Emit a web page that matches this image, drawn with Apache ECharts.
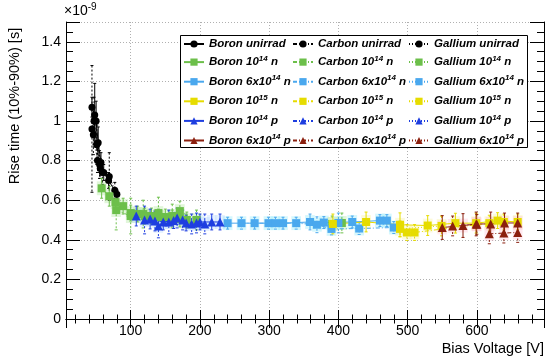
<!DOCTYPE html>
<html><head><meta charset="utf-8">
<script src="https://cdn.jsdelivr.net/npm/echarts@6/dist/echarts.min.js"></script>
<style>html,body{margin:0;padding:0;background:#fff}#c{width:550px;height:363px}</style>
</head><body><div id="c"></div>
<script>
// Bias voltage [V], rise time [ns], error [ns]
const boronUnirradV = [44, 48, 50, 53, 57, 61, 68, 80];
const boronUnirradT = [1.07, 1.03, 1.0, 0.89, 0.79, 0.74, 0.70, 0.63];
const boronUnirradE = [0.05, 0.16, 0.10, 0.08, 0.05, 0.04, 0.04, 0.02];
const carbonUnirradV = [44, 47, 51, 55, 59, 69, 77];
const carbonUnirradT = [0.96, 1.0, 0.88, 0.78, 0.74, 0.72, 0.65];
const carbonUnirradE = [0.32, 0.12, 0.10, 0.07, 0.06, 0.12, 0.04];
const galliumUnirradV = [46, 52, 56];
const galliumUnirradT = [0.93, 0.80, 0.76];
const galliumUnirradE = [0.10, 0.06, 0.05];

const boron1e14nV = [58, 69, 78, 89, 100, 110, 120, 130, 140, 150, 160, 171, 181];
const boron1e14nT = [0.66, 0.62, 0.59, 0.57, 0.535, 0.53, 0.52, 0.52, 0.515, 0.515, 0.51, 0.505, 0.50];
const boron1e14nE = [0.05, 0.05, 0.04, 0.04, 0.04, 0.04, 0.04, 0.04, 0.04, 0.04, 0.04, 0.04, 0.04];
const carbon1e14nV = [79, 100, 118, 140, 160, 171, 195];
const carbon1e14nT = [0.55, 0.52, 0.53, 0.535, 0.52, 0.545, 0.50];
const carbon1e14nE = [0.10, 0.09, 0.07, 0.08, 0.06, 0.05, 0.05];
const gallium1e14nV = [391, 405];
const gallium1e14nT = [0.48, 0.485];
const gallium1e14nE = [0.04, 0.05];

const boron6e14nV = [240, 279, 320, 359, 379, 420, 460, 470];
const boron6e14nT = [0.484, 0.484, 0.484, 0.49, 0.487, 0.49, 0.497, 0.497];
const boron6e14nE = [0.03, 0.03, 0.03, 0.04, 0.03, 0.03, 0.03, 0.03];
const carbon6e14nV = [260, 299, 339, 369, 390, 430, 480];
const carbon6e14nT = [0.484, 0.484, 0.484, 0.476, 0.455, 0.457, 0.462];
const carbon6e14nE = [0.03, 0.03, 0.03, 0.04, 0.03, 0.03, 0.03];
const gallium6e14nV = [309, 400];
const gallium6e14nT = [0.484, 0.485];
const gallium6e14nE = [0.03, 0.05];

const boron1e15nV = [392, 440, 489, 529, 569, 599, 630, 659];
const boron1e15nT = [0.48, 0.49, 0.476, 0.472, 0.484, 0.484, 0.497, 0.49];
const boron1e15nE = [0.05, 0.05, 0.06, 0.05, 0.05, 0.05, 0.04, 0.04];
const carbon1e15nV = [499, 510, 618, 639];
const carbon1e15nT = [0.437, 0.437, 0.484, 0.49];
const carbon1e15nE = [0.04, 0.04, 0.04, 0.04];
const gallium1e15nV = [489, 549];
const gallium1e15nT = [0.455, 0.47];
const gallium1e15nE = [0.04, 0.05];

const boron1e14pV = [108, 128, 147, 162, 180, 200, 217, 229];
const boron1e14pT = [0.52, 0.505, 0.49, 0.497, 0.485, 0.49, 0.49, 0.49];
const boron1e14pE = [0.05, 0.05, 0.04, 0.04, 0.04, 0.04, 0.04, 0.04];
const carbon1e14pV = [120, 140, 155, 167, 188, 207];
const carbon1e14pT = [0.50, 0.47, 0.49, 0.51, 0.48, 0.48];
const carbon1e14pE = [0.07, 0.06, 0.06, 0.05, 0.05, 0.05];
const gallium1e14pV = [135, 175, 195];
const gallium1e14pT = [0.495, 0.50, 0.485];
const gallium1e14pE = [0.05, 0.05, 0.05];

const boron6e14pV = [550, 580, 599, 620, 640, 659];
const boron6e14pT = [0.462, 0.472, 0.48, 0.48, 0.485, 0.485];
const boron6e14pE = [0.06, 0.06, 0.06, 0.06, 0.05, 0.05];
const carbon6e14pV = [618, 639, 659];
const carbon6e14pT = [0.43, 0.434, 0.437];
const carbon6e14pE = [0.05, 0.05, 0.05];
const gallium6e14pV = [565, 600];
const gallium6e14pT = [0.47, 0.478];
const gallium6e14pE = [0.05, 0.05];

const yTickLabels = ['0', '0.2', '0.4', '0.6', '0.8', '1', '1.2', '1.4'];

// ---- styling ----
const COL = {
  black: '#000000', green: '#6cbf4a', lblue: '#4aa8ee', yellow: '#e6dc00',
  blue: '#1e3ee0', red: '#8b1f0e'
};
const BOX = {
  black: null, green: 'rgba(170,230,150,0.35)', lblue: 'rgba(150,235,250,0.4)',
  yellow: 'rgba(245,240,150,0.35)', blue: 'rgba(170,210,255,0.30)', red: 'rgba(255,190,210,0.35)'
};
const SYM = { circle: ['circle', 7], square: ['rect', 8], tri: ['triangle', 9] };
const KIND = { boron: 'solid', carbon: [4, 2, 1, 2], gallium: [1, 2] };

const defs = [
  ['Boron unirrad', 'boron', 'black', 'circle', boronUnirradV, boronUnirradT, boronUnirradE],
  ['Carbon unirrad', 'carbon', 'black', 'circle', carbonUnirradV, carbonUnirradT, carbonUnirradE],
  ['Gallium unirrad', 'gallium', 'black', 'circle', galliumUnirradV, galliumUnirradT, galliumUnirradE],
  ['Boron 10^14 n', 'boron', 'green', 'square', boron1e14nV, boron1e14nT, boron1e14nE],
  ['Carbon 10^14 n', 'carbon', 'green', 'square', carbon1e14nV, carbon1e14nT, carbon1e14nE],
  ['Gallium 10^14 n', 'gallium', 'green', 'square', gallium1e14nV, gallium1e14nT, gallium1e14nE],
  ['Boron 6x10^14 n', 'boron', 'lblue', 'square', boron6e14nV, boron6e14nT, boron6e14nE],
  ['Carbon 6x10^14 n', 'carbon', 'lblue', 'square', carbon6e14nV, carbon6e14nT, carbon6e14nE],
  ['Gallium 6x10^14 n', 'gallium', 'lblue', 'square', gallium6e14nV, gallium6e14nT, gallium6e14nE],
  ['Boron 10^15 n', 'boron', 'yellow', 'square', boron1e15nV, boron1e15nT, boron1e15nE],
  ['Carbon 10^15 n', 'carbon', 'yellow', 'square', carbon1e15nV, carbon1e15nT, carbon1e15nE],
  ['Gallium 10^15 n', 'gallium', 'yellow', 'square', gallium1e15nV, gallium1e15nT, gallium1e15nE],
  ['Boron 10^14 p', 'boron', 'blue', 'tri', boron1e14pV, boron1e14pT, boron1e14pE],
  ['Carbon 10^14 p', 'carbon', 'blue', 'tri', carbon1e14pV, carbon1e14pT, carbon1e14pE],
  ['Gallium 10^14 p', 'gallium', 'blue', 'tri', gallium1e14pV, gallium1e14pT, gallium1e14pE],
  ['Boron 6x10^14 p', 'boron', 'red', 'tri', boron6e14pV, boron6e14pT, boron6e14pE],
  ['Carbon 6x10^14 p', 'carbon', 'red', 'tri', carbon6e14pV, carbon6e14pT, carbon6e14pE],
  ['Gallium 6x10^14 p', 'gallium', 'red', 'tri', gallium6e14pV, gallium6e14pT, gallium6e14pE]
];

function boxRender(fill) {
  return function (params, api) {
    const v = api.value(0), t = api.value(1);
    const a = api.coord([v - 7, t + 0.035]);
    const b = api.coord([v + 7, t - 0.035]);
    return { type: 'rect', shape: { x: a[0], y: a[1], width: b[0] - a[0], height: b[1] - a[1] }, style: { fill: fill } };
  };
}
function errRender(color, dash) {
  return function (params, api) {
    const v = api.value(0), t = api.value(1), e = api.value(2);
    const hi = api.coord([v, t + e]), lo = api.coord([v, t - e]);
    const st = { stroke: color, lineWidth: 1, lineDash: dash === 'solid' ? null : [2, 2] };
    return {
      type: 'group', children: [
        { type: 'line', shape: { x1: hi[0], y1: hi[1], x2: lo[0], y2: lo[1] }, style: st },
        { type: 'line', shape: { x1: hi[0] - 1.5, y1: hi[1], x2: hi[0] + 1.5, y2: hi[1] }, style: { stroke: color, lineWidth: 1 } },
        { type: 'line', shape: { x1: lo[0] - 1.5, y1: lo[1], x2: lo[0] + 1.5, y2: lo[1] }, style: { stroke: color, lineWidth: 1 } }
      ]
    };
  };
}

const series = [];
defs.forEach(function (d) {
  const name = d[0], kind = d[1], col = COL[d[2]], box = BOX[d[2]], sym = SYM[d[3]];
  const V = d[4], T = d[5], E = d[6];
  const errData = V.map(function (v, i) { return [v, T[i], E[i]]; });
  if (box) {
    series.push({ type: 'custom', name: name + ' box', data: errData, renderItem: boxRender(box), z: 1, silent: true, clip: true, encode: { x: 0, y: 1 } });
  }
  series.push({ type: 'custom', name: name + ' err', data: errData, renderItem: errRender(col, KIND[kind]), z: 2, silent: true, clip: true, encode: { x: 0, y: 1 } });
  series.push({
    type: 'line', name: name, data: V.map(function (v, i) { return [v, T[i]]; }),
    symbol: sym[0], symbolSize: sym[1], showAllSymbol: true, z: 3,
    itemStyle: { color: col, borderWidth: 0 },
    lineStyle: { color: col, width: 1, type: KIND[kind] },
    emphasis: { disabled: true }, animation: false
  });
});

function legendFmt(name) {
  const m = name.match(/^(.*?)\^(\d+)(.*)$/);
  if (!m) return '{t|' + name + '}';
  return '{t|' + m[1] + '}{s|' + m[2] + '}{t|' + m[3] + '}';
}
const legendRich = {
  t: { fontFamily: 'Liberation Sans', fontSize: 11.5, fontWeight: 'bold', fontStyle: 'italic', lineHeight: 14, color: '#000' },
  s: { fontFamily: 'Liberation Sans', fontSize: 8, fontWeight: 'bold', fontStyle: 'italic', lineHeight: 14, padding: [0, 0, 7, 0], color: '#000' }
};
function makeLegend(colIdx, left) {
  return {
    data: defs.filter(function (d, i) { return i % 3 === colIdx; }).map(function (d) { return d[0]; }),
    left: left, top: 38, orient: 'vertical', padding: 0,
    itemWidth: 20, itemHeight: 9, itemGap: 4.6,
    selectedMode: false, formatter: legendFmt, z: 5,
    textStyle: { color: '#000', rich: legendRich }
  };
}

const axisFont = { fontFamily: 'Liberation Sans', fontSize: 14, color: '#000' };
const frameLine = { show: true, lineStyle: { color: '#000', width: 1 } };

const option = {
  animation: false,
  backgroundColor: '#fff',
  grid: { left: 66, right: 6, top: 22, bottom: 44, containLabel: false },
  legend: [makeLegend(0, 183), makeLegend(1, 292), makeLegend(2, 408)],
  xAxis: [{
    type: 'value', min: 6.5, max: 697, splitNumber: 7,
    axisLine: frameLine,
    axisTick: { show: true, inside: true, length: 9, lineStyle: { color: '#000' } },
    minorTick: { show: true, splitNumber: 5, length: 4.5, lineStyle: { color: '#000' } },
    axisLabel: Object.assign({ margin: 5, showMinLabel: false, showMaxLabel: false }, axisFont),
    splitLine: { show: true, lineStyle: { color: '#b0b0b0', type: [1, 2], width: 1 } }
  }, {
    type: 'value', position: 'top', min: 6.5, max: 697, splitNumber: 7,
    axisLine: frameLine,
    axisTick: { show: true, inside: true, length: 9, lineStyle: { color: '#000' } },
    minorTick: { show: true, splitNumber: 5, length: 4.5, lineStyle: { color: '#000' } },
    axisLabel: { show: false }, splitLine: { show: false }
  }],
  yAxis: [{
    type: 'value', min: 0, max: 1.5, interval: 0.2,
    axisLine: frameLine,
    axisTick: { show: true, inside: true, length: 14, lineStyle: { color: '#000' } },
    minorTick: { show: true, splitNumber: 4, length: 7, lineStyle: { color: '#000' } },
    axisLabel: Object.assign({ margin: 5, showMaxLabel: false, formatter: function (v) { const i = Math.round(v / 0.2); return yTickLabels[i] !== undefined ? yTickLabels[i] : ''; } }, axisFont),
    splitLine: { show: true, lineStyle: { color: '#b0b0b0', type: [1, 2], width: 1 } }
  }, {
    type: 'value', position: 'right', min: 0, max: 1.5, interval: 0.2,
    axisLine: frameLine,
    axisTick: { show: true, inside: true, length: 14, lineStyle: { color: '#000' } },
    minorTick: { show: true, splitNumber: 4, length: 7, lineStyle: { color: '#000' } },
    axisLabel: { show: false }, splitLine: { show: false }
  }],
  graphic: [
    { type: 'rect', z: 4, shape: { x: 180.5, y: 35.5, width: 347, height: 112 }, style: { fill: '#fff', stroke: '#000', lineWidth: 1 } },
    { type: 'text', left: 64, top: 2, style: { text: '×10{s|-9}', rich: { s: { fontSize: 10, padding: [0, 0, 8, 0], fontFamily: 'Liberation Sans', fill: '#000' } }, font: '14px "Liberation Sans"', fill: '#000' } },
    { type: 'text', x: 15, y: 106, rotation: Math.PI / 2, style: { text: 'Rise time (10%-90%) [s]', font: '14.5px "Liberation Sans"', fill: '#000', align: 'center', verticalAlign: 'middle' } },
    { type: 'text', x: 544, y: 349, style: { text: 'Bias Voltage [V]', font: '14.5px "Liberation Sans"', fill: '#000', align: 'right', verticalAlign: 'middle' } }
  ],
  series: series
};
const chart = echarts.init(document.getElementById('c'), null, { renderer: 'canvas' });
chart.setOption(option);
</script>
</body></html>
